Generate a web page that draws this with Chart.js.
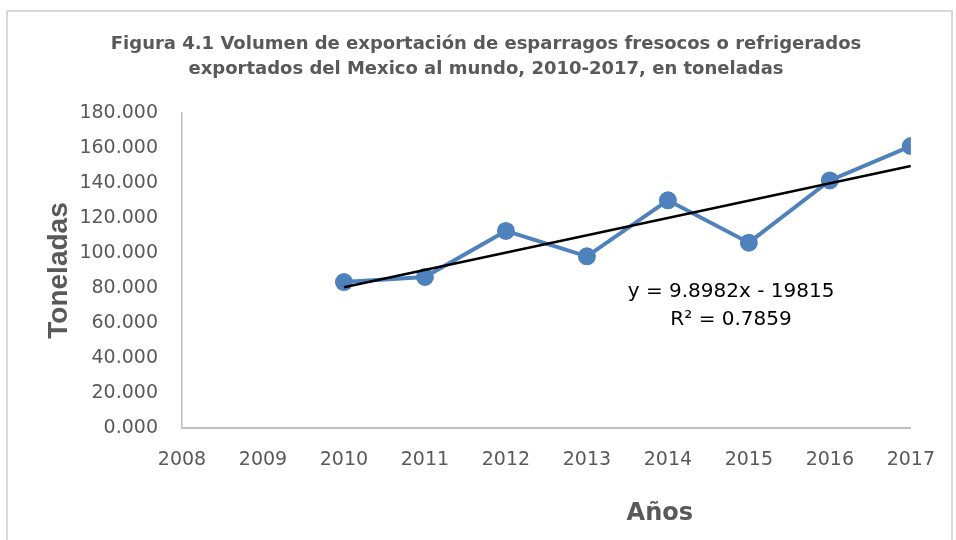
<!DOCTYPE html>
<html>
<head>
<meta charset="utf-8">
<script src="https://cdn.jsdelivr.net/npm/chart.js@4.4.1/dist/chart.umd.min.js"></script>
<style>
  html, body { margin: 0; padding: 0; background: #fff; }
  #marco { position: absolute; left: 6px; top: 10px; width: 943px; height: 540px; border: 2px solid #d9d9d9; }
  #contenedor { position: absolute; left: 0; top: 0; width: 956px; height: 540px; }
</style>
</head>
<body>
<div id="marco"></div>
<div id="contenedor"><canvas id="grafico" width="956" height="540"></canvas></div>
<script>
// años y volumen exportado (miles de toneladas)
const anios = [2010, 2011, 2012, 2013, 2014, 2015, 2016, 2017];
const volumen = [83.4, 86.3, 112.6, 98.1, 130.1, 105.9, 141.5, 161.1];

// línea de tendencia (extremos)
const tendenciaX = [2010, 2017];
const tendenciaY = [80.4, 149.7];

const ecuacion = ['y = 9.8982x - 19815', 'R² = 0.7859'];
const titulo = [
  'Figura 4.1 Volumen de exportación de esparragos fresocos o refrigerados',
  'exportados del Mexico al mundo, 2010-2017, en toneladas'
];

const gris = '#595959';

// titulo, ecuacion de la tendencia y titulo del eje x
const textosExtra = {
  id: 'textosExtra',
  afterDraw(chart) {
    const ctx = chart.ctx;
    const x = chart.scales.x;
    const y = chart.scales.y;
    ctx.save();
    ctx.textAlign = 'center';
    ctx.textBaseline = 'middle';

    ctx.fillStyle = gris;
    ctx.font = 'bold 18px "DejaVu Sans"';
    ctx.fillText(titulo[0], 486, 44);
    ctx.fillText(titulo[1], 486, 69);

    ctx.fillStyle = '#000';
    ctx.font = '20px "DejaVu Sans"';
    ctx.fillText(ecuacion[0], x.getPixelForValue(2014.78), y.getPixelForValue(78));
    ctx.fillText(ecuacion[1], x.getPixelForValue(2014.78), y.getPixelForValue(62));

    ctx.fillStyle = gris;
    ctx.font = 'bold 24px "DejaVu Sans"';
    ctx.fillText('Años', x.getPixelForValue(2013.9), 514);
    ctx.restore();
  }
};

const ctx = document.getElementById('grafico').getContext('2d');
new Chart(ctx, {
  type: 'scatter',
  data: {
    datasets: [{
      label: 'Lineal',
      data: tendenciaX.map((a, i) => ({ x: a, y: tendenciaY[i] })),
      showLine: true,
      borderColor: '#000',
      borderWidth: 2.5,
      pointRadius: 0,
      fill: false
    }, {
      label: 'Volumen',
      data: anios.map((a, i) => ({ x: a, y: volumen[i] })),
      showLine: true,
      borderColor: '#4f81bd',
      backgroundColor: '#4f81bd',
      borderWidth: 4,
      pointRadius: 7,
      pointHoverRadius: 7,
      fill: false
    }]
  },
  options: {
    responsive: false,
    animation: false,
    layout: { padding: { left: 0, right: 43, top: 113, bottom: 0 } },
    plugins: {
      legend: { display: false },
      tooltip: { enabled: false },
      title: { display: false }
    },
    scales: {
      x: {
        type: 'linear',
        min: 2008,
        max: 2017,
        afterFit(s) { s.height = 112; },
        grid: { display: false, drawTicks: false },
        border: { display: true, color: '#bfbfbf', width: 2 },
        ticks: {
          stepSize: 1,
          padding: 21,
          color: gris,
          font: { family: 'DejaVu Sans', size: 19 },
          callback: v => String(v)
        }
      },
      y: {
        min: 0,
        max: 180,
        afterFit(s) { s.width = 182; },
        grid: { display: false, drawTicks: false },
        border: { display: true, color: '#bfbfbf', width: 1.5 },
        ticks: {
          stepSize: 20,
          padding: 24,
          color: gris,
          font: { family: 'DejaVu Sans', size: 19 },
          callback: v => v.toFixed(3)
        },
        title: {
          display: true,
          text: 'Toneladas',
          color: gris,
          font: { family: 'Liberation Sans', size: 28, weight: 'bold' },
          padding: { top: 42, bottom: 0 }
        }
      }
    }
  },
  plugins: [textosExtra]
});
</script>
</body>
</html>
